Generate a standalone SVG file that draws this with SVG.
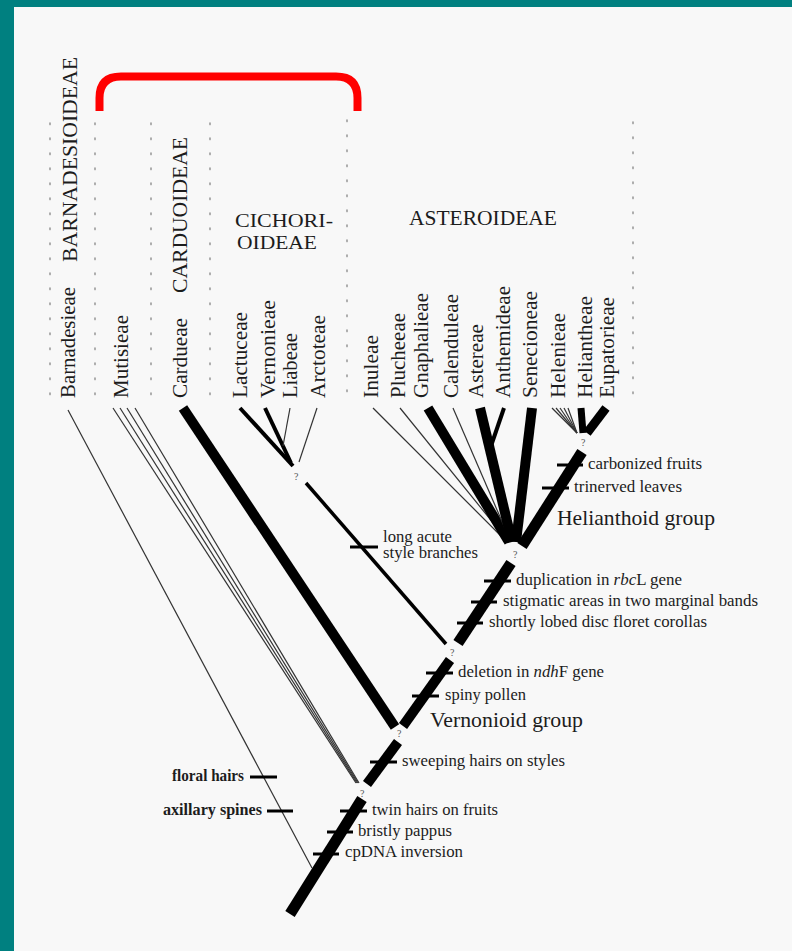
<svg xmlns="http://www.w3.org/2000/svg" width="792" height="951" viewBox="0 0 792 951">
<style>
text{font-family:"Liberation Serif","Times New Roman",serif;fill:#1c1c1c}
.v{font-size:20.5px}
.cap{font-size:21px}
.cap2{font-size:19px}
.ann{font-size:16px}
.grp{font-size:21px}
.q{font-size:10px;fill:#555}
.dot{stroke:#9a9a9a;stroke-width:1.6;stroke-dasharray:1.6 13.4;stroke-linecap:round;fill:none}
.thk{stroke:#000;fill:none;stroke-linecap:butt}
.thin{stroke:#333;stroke-width:1.2;fill:none}
.tick{stroke:#000;stroke-width:3}
</style>
<rect x="0" y="0" width="792" height="951" fill="#008080"/>
<rect x="14" y="7" width="778" height="944" fill="#f8f8f8"/>
<g id="guides">
<line class="dot" x1="50" y1="123" x2="50" y2="400"/>
<line class="dot" x1="95" y1="123" x2="95" y2="400"/>
<line class="dot" x1="151" y1="123" x2="151" y2="400"/>
<line class="dot" x1="210" y1="123" x2="210" y2="400"/>
<line class="dot" x1="347" y1="120" x2="347" y2="400"/>
<line class="dot" x1="633" y1="122" x2="633" y2="400"/>
</g>
<path id="bracket" d="M99.5 111 V98 Q99.5 76.5 121 76.5 H336 Q357.5 76.5 357.5 98 V111" fill="none" stroke="#ff0000" stroke-width="8"/>
<g id="headers">
<text class="cap" transform="translate(77,262) rotate(-90)" textLength="205" lengthAdjust="spacingAndGlyphs">BARNADESIOIDEAE</text>
<text class="cap" transform="translate(187,293) rotate(-90)" textLength="156" lengthAdjust="spacingAndGlyphs">CARDUOIDEAE</text>
<text class="cap2" x="235" y="227" textLength="98" lengthAdjust="spacingAndGlyphs">CICHORI-</text>
<text class="cap2" x="237" y="249" textLength="80" lengthAdjust="spacingAndGlyphs">OIDEAE</text>
<text class="cap" x="409" y="225" textLength="148" lengthAdjust="spacingAndGlyphs">ASTEROIDEAE</text>
</g>
<g id="taxa">
<text class="v" transform="translate(75,398) rotate(-90)" textLength="111" lengthAdjust="spacingAndGlyphs">Barnadesieae</text>
<text class="v" transform="translate(128,398) rotate(-90)" textLength="83" lengthAdjust="spacingAndGlyphs">Mutisieae</text>
<text class="v" transform="translate(187,398) rotate(-90)" textLength="80" lengthAdjust="spacingAndGlyphs">Cardueae</text>
<text class="v" transform="translate(247,398) rotate(-90)" textLength="86" lengthAdjust="spacingAndGlyphs">Lactuceae</text>
<text class="v" transform="translate(275,398) rotate(-90)" textLength="98" lengthAdjust="spacingAndGlyphs">Vernonieae</text>
<text class="v" transform="translate(297,398) rotate(-90)" textLength="65" lengthAdjust="spacingAndGlyphs">Liabeae</text>
<text class="v" transform="translate(325,398) rotate(-90)" textLength="83" lengthAdjust="spacingAndGlyphs">Arctoteae</text>
<text class="v" transform="translate(378,398) rotate(-90)" textLength="63" lengthAdjust="spacingAndGlyphs">Inuleae</text>
<text class="v" transform="translate(405,398) rotate(-90)" textLength="85" lengthAdjust="spacingAndGlyphs">Plucheeae</text>
<text class="v" transform="translate(428,398) rotate(-90)" textLength="105" lengthAdjust="spacingAndGlyphs">Gnaphalieae</text>
<text class="v" transform="translate(458,398) rotate(-90)" textLength="104" lengthAdjust="spacingAndGlyphs">Calenduleae</text>
<text class="v" transform="translate(483,398) rotate(-90)" textLength="74" lengthAdjust="spacingAndGlyphs">Astereae</text>
<text class="v" transform="translate(510,398) rotate(-90)" textLength="112" lengthAdjust="spacingAndGlyphs">Anthemideae</text>
<text class="v" transform="translate(537,398) rotate(-90)" textLength="107" lengthAdjust="spacingAndGlyphs">Senecioneae</text>
<text class="v" transform="translate(565,398) rotate(-90)" textLength="85" lengthAdjust="spacingAndGlyphs">Helenieae</text>
<text class="v" transform="translate(592,398) rotate(-90)" textLength="102" lengthAdjust="spacingAndGlyphs">Heliantheae</text>
<text class="v" transform="translate(614,398) rotate(-90)" textLength="101" lengthAdjust="spacingAndGlyphs">Eupatorieae</text>
</g>
<g id="connectors">
<line class="thin" x1="68" y1="410" x2="312" y2="868"/>
<line class="thin" x1="113" y1="408" x2="356" y2="783"/>
<line class="thin" x1="120" y1="408" x2="357" y2="783"/>
<line class="thin" x1="127" y1="408" x2="358" y2="783"/>
<line class="thin" x1="135" y1="408" x2="359" y2="783"/>
<line class="thk" stroke-width="10" x1="183" y1="408" x2="395" y2="727"/>
<line class="thk" stroke-width="4" x1="240" y1="408" x2="293" y2="466"/>
<line class="thk" stroke-width="4" x1="265" y1="408" x2="291" y2="463"/>
<line class="thin" x1="290" y1="408" x2="283" y2="446"/>
<line class="thin" x1="317" y1="408" x2="299" y2="462"/>
<line class="thk" stroke-width="3.5" x1="306" y1="483" x2="446" y2="644"/>
<line class="thin" x1="373" y1="408" x2="505" y2="540"/>
<line class="thin" x1="400" y1="408" x2="507" y2="540"/>
<line class="thk" stroke-width="10" x1="428" y1="408" x2="509" y2="542"/>
<line class="thin" x1="453" y1="408" x2="510" y2="540"/>
<line class="thk" stroke-width="10" x1="480" y1="408" x2="512" y2="542"/>
<line class="thk" stroke-width="4" x1="504" y1="408" x2="491" y2="446"/>
<line class="thk" stroke-width="10" x1="532" y1="408" x2="516" y2="542"/>
<line class="thk" stroke-width="11" x1="522" y1="546" x2="582" y2="452"/>
<line class="thin" x1="552" y1="408" x2="577" y2="433"/>
<line class="thin" x1="556" y1="408" x2="577" y2="433"/>
<line class="thin" x1="560" y1="408" x2="577" y2="433"/>
<line class="thin" x1="564" y1="408" x2="577" y2="433"/>
<line class="thin" x1="568" y1="408" x2="577" y2="433"/>
<line class="thk" stroke-width="7" x1="581" y1="408" x2="583" y2="433"/>
<line class="thk" stroke-width="9" x1="606" y1="408" x2="587" y2="433"/>
<line class="thk" stroke-width="11" x1="290" y1="914" x2="362" y2="799"/>
<line class="thk" stroke-width="10" x1="367" y1="784" x2="398" y2="742"/>
<line class="thk" stroke-width="10" x1="403" y1="726" x2="450" y2="660"/>
<line class="thk" stroke-width="11" x1="458" y1="643" x2="511" y2="563"/>
</g>
<g id="ticks">
<line class="tick" x1="250" y1="777" x2="277" y2="777"/>
<line class="tick" x1="267" y1="811" x2="293" y2="811"/>
<line class="tick" x1="313" y1="854" x2="339" y2="854"/>
<line class="tick" x1="327" y1="832" x2="353" y2="832"/>
<line class="tick" x1="340" y1="811" x2="367" y2="811"/>
<line class="tick" x1="370" y1="762" x2="397" y2="762"/>
<line class="tick" x1="412" y1="696" x2="439" y2="696"/>
<line class="tick" x1="426" y1="673" x2="453" y2="673"/>
<line class="tick" x1="350" y1="547" x2="378" y2="547"/>
<line class="tick" x1="457" y1="623" x2="483" y2="623"/>
<line class="tick" x1="471" y1="602" x2="497" y2="602"/>
<line class="tick" x1="484" y1="581" x2="511" y2="581"/>
<line class="tick" x1="542" y1="488" x2="569" y2="488"/>
<line class="tick" x1="557" y1="465" x2="583" y2="465"/>
</g>
<g id="nodes">
<text class="q" x="294" y="480">?</text>
<text class="q" x="360" y="797">?</text>
<text class="q" x="397" y="737">?</text>
<text class="q" x="450" y="656">?</text>
<text class="q" x="513" y="558">?</text>
<text class="q" x="581" y="446">?</text>
</g>
<g id="labels">
<text class="ann" x="588" y="469" textLength="114" lengthAdjust="spacingAndGlyphs">carbonized fruits</text>
<text class="ann" x="574" y="492" textLength="108" lengthAdjust="spacingAndGlyphs">trinerved leaves</text>
<text class="grp" x="557" y="525" textLength="158" lengthAdjust="spacingAndGlyphs">Helianthoid group</text>
<text class="ann" x="383" y="542" textLength="69" lengthAdjust="spacingAndGlyphs">long acute</text>
<text class="ann" x="383" y="558" textLength="95" lengthAdjust="spacingAndGlyphs">style branches</text>
<text class="ann" x="516" y="585" textLength="166" lengthAdjust="spacingAndGlyphs">duplication in <tspan font-style="italic">rbc</tspan>L gene</text>
<text class="ann" x="503" y="606" textLength="255" lengthAdjust="spacingAndGlyphs">stigmatic areas in two marginal bands</text>
<text class="ann" x="489" y="627" textLength="218" lengthAdjust="spacingAndGlyphs">shortly lobed disc floret corollas</text>
<text class="ann" x="458" y="677" textLength="146" lengthAdjust="spacingAndGlyphs">deletion in <tspan font-style="italic">ndh</tspan>F gene</text>
<text class="ann" x="445" y="700" textLength="81" lengthAdjust="spacingAndGlyphs">spiny pollen</text>
<text class="grp" x="430" y="727" textLength="153" lengthAdjust="spacingAndGlyphs">Vernonioid group</text>
<text class="ann" x="402" y="766" textLength="163" lengthAdjust="spacingAndGlyphs">sweeping hairs on styles</text>
<text class="ann" x="244" y="781" text-anchor="end" font-weight="bold" textLength="72" lengthAdjust="spacingAndGlyphs">floral hairs</text>
<text class="ann" x="262" y="815" text-anchor="end" font-weight="bold" textLength="99" lengthAdjust="spacingAndGlyphs">axillary spines</text>
<text class="ann" x="372" y="815" textLength="126" lengthAdjust="spacingAndGlyphs">twin hairs on fruits</text>
<text class="ann" x="358" y="836" textLength="94" lengthAdjust="spacingAndGlyphs">bristly pappus</text>
<text class="ann" x="345" y="857" textLength="118" lengthAdjust="spacingAndGlyphs">cpDNA inversion</text>
</g>
</svg>
